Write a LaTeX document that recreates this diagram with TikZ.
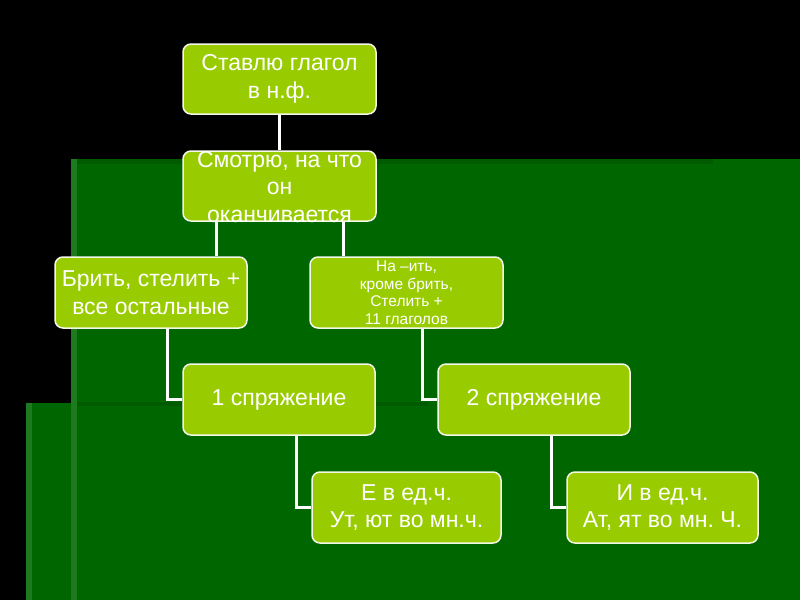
\documentclass[tikz,border=0pt]{standalone}
\usepackage{fontspec}
\setmainfont{Liberation Sans}
\frenchspacing
\definecolor{bgg}{HTML}{006600}
\definecolor{bgstripe}{HTML}{1E7A1E}
\definecolor{bgdark}{HTML}{005A00}
\definecolor{boxg}{HTML}{99CC00}
\definecolor{boxline}{HTML}{F4F8E8}
\tikzset{
  box/.style={draw=boxline, line width=1.5pt, fill=boxg, rounded corners=8pt,
    inner sep=0pt, align=center, text=white},
  txt/.style={inner sep=0pt, align=center, text=white},
  conn/.style={draw=white, line width=3pt},
  big/.style={font=\fontsize{23}{28.5}\selectfont},
}
\begin{document}
\begin{tikzpicture}[x=1pt,y=-1pt]
\useasboundingbox (0,0) rectangle (800,600);
\fill[black] (0,0) rectangle (800,600);
% background panels
\fill[bgg] (71,159) rectangle (800,600);
\fill[bgg] (26,403) rectangle (800,600);
\fill[bgdark] (71,159) rectangle (713,164);
\fill[bgdark] (71,402) rectangle (428,406);
\fill[bgstripe] (71,159) rectangle (77,600);
\fill[bgstripe] (26,403) rectangle (32,600);
% nodes
\node[box, big, minimum width=193pt, minimum height=70pt] (n1) at (279.5,79) {Ставлю глагол\\в н.ф.};
\node[box, minimum width=193pt, minimum height=70pt] (n2) at (279.5,186) {};
\node[box, big, minimum width=192pt, minimum height=71pt] (n3) at (151,292.5) {Брить, стелить +\\все остальные};
\node[box, minimum width=193pt, minimum height=71pt, font=\fontsize{15.5}{17.5}\selectfont] (n4) at (406.5,292.5) {На –ить,\\кроме брить,\\Стелить +\\11 глаголов};
\node[box, big, minimum width=192pt, minimum height=71pt] (n5) at (279,399.5) {1 спряжение};
\node[box, big, minimum width=192pt, minimum height=71pt] (n6) at (534,399.5) {2 спряжение};
\node[box, minimum width=189pt, minimum height=71pt, font=\fontsize{23}{27}\selectfont] (n7) at (406.5,507.5) {Е в ед.ч.\\Ут, ют во мн.ч.};
\node[box, minimum width=191pt, minimum height=71pt, font=\fontsize{23}{27}\selectfont] (n8) at (662.5,507.5) {И в ед.ч.\\Ат, ят во мн. Ч.};
% connectors
\draw[conn] (n1.south) -- (n2.north);
\draw[conn] ([xshift=-63.5pt]n2.south) -- ([xshift=-63.5pt]n2.south |- n3.north);
\draw[conn] ([xshift=63.5pt]n2.south) -- ([xshift=63.5pt]n2.south |- n4.north);
\draw[conn] ([xshift=16pt]n3.south) |- (n5.west);
\draw[conn] ([xshift=15.5pt]n4.south) |- (n6.west);
\draw[conn] ([xshift=17pt]n5.south) |- (n7.west);
\draw[conn] ([xshift=17pt]n6.south) |- (n8.west);
\node[txt, font=\fontsize{23}{27.5}\selectfont] (n2t) at (279.5,187) {Смотрю, на что\\он\\оканчивается};
\end{tikzpicture}
\end{document}
